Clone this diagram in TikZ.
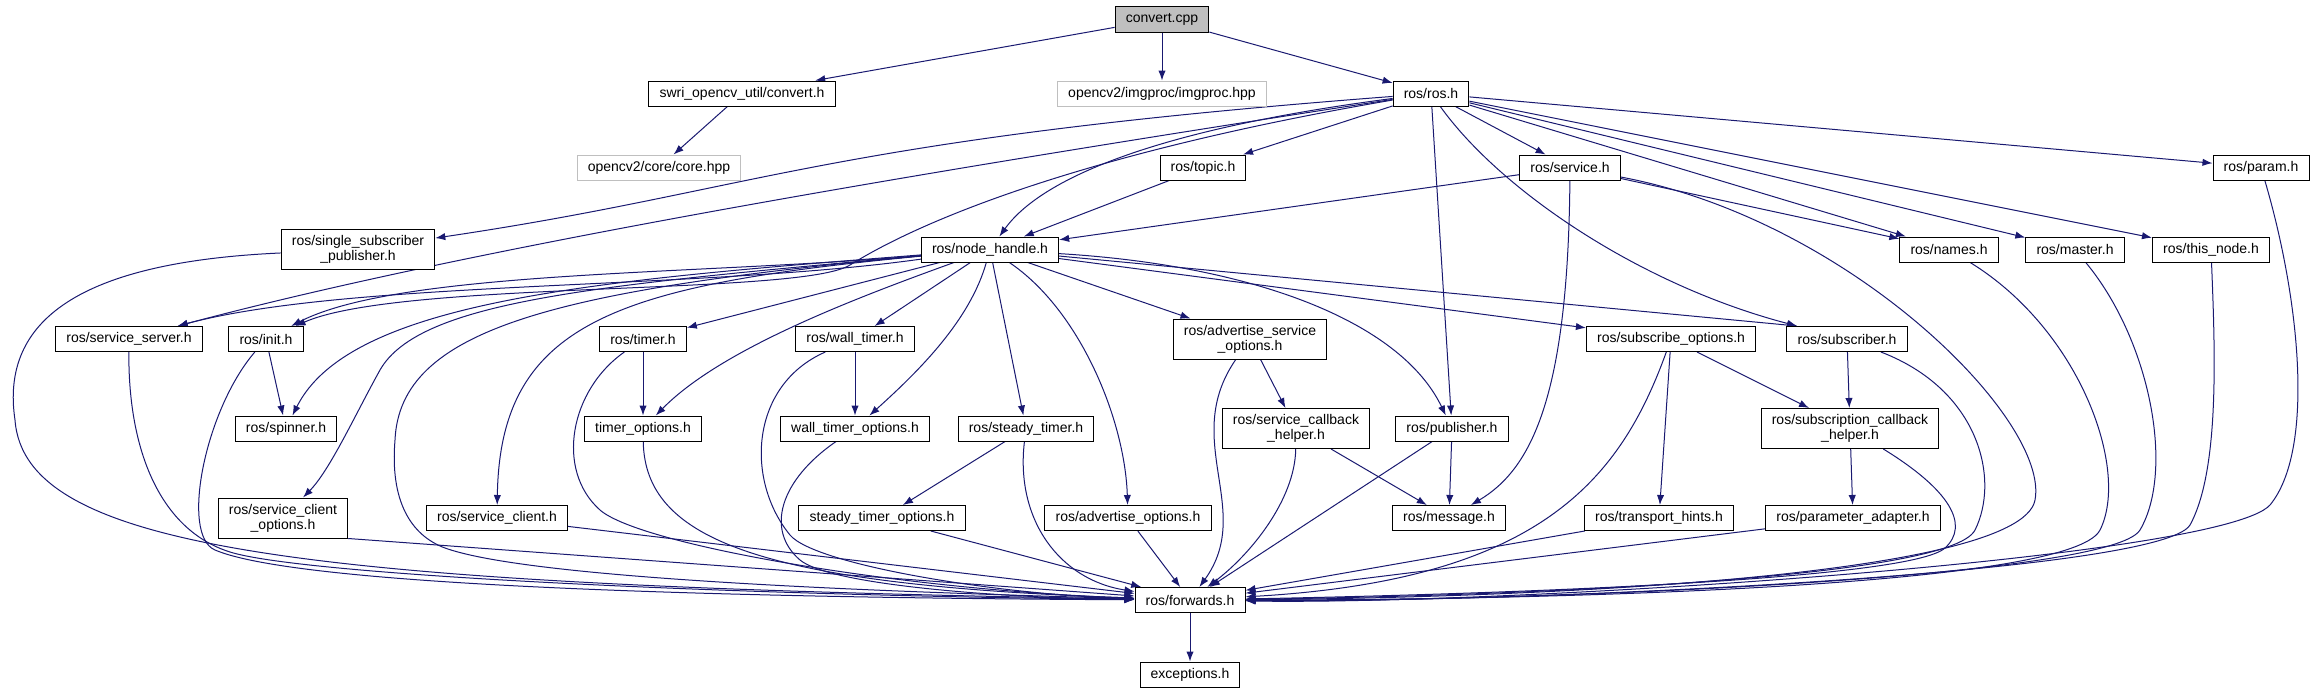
\documentclass[tikz,border=0pt]{standalone}
\usepackage{fontspec}
\newfontfamily\hfont{Liberation Sans}
\usetikzlibrary{arrows.meta}
\pgfdeclarelayer{back}
\pgfsetlayers{back,main}
\definecolor{edgeblue}{RGB}{25,25,112}
\definecolor{boxgray}{RGB}{191,191,191}
\tikzset{
  hdr/.style={draw=black,fill=white,line width=0.75pt,inner xsep=8pt,inner ysep=0pt,
    minimum height=18.75pt,align=center,font=\hfont\fontsize{10.5pt}{11.25pt}\selectfont},
  hdr2/.style={hdr,minimum height=30pt},
  ext/.style={hdr,draw=boxgray},
  root/.style={hdr,fill=boxgray,minimum height=19.5pt},
  inc/.style={draw=edgeblue,line width=0.75pt,-{Latex[length=7.5pt,width=5.5pt]}}
}

\begin{document}
\begin{tikzpicture}[x=0.75pt,y=-0.75pt]
\useasboundingbox (0,0) rectangle (2316,693);

%root
\node[root] (cpp) at (1162,19) {convert.cpp};

%row 1
\node[hdr] (swri) at (742,93.5) {swri\_opencv\_util/convert.h};
\node[ext] (imgproc) at (1162,93.5) {opencv2/imgproc/imgproc.hpp};
\node[hdr] (ros) at (1431,93.5) {ros/ros.h};

%row 2
\node[ext] (core) at (659,167.5) {opencv2/core/core.hpp};
\node[hdr] (topic) at (1203,167.5) {ros/topic.h};
\node[hdr] (service) at (1570,167.5) {ros/service.h};
\node[hdr] (param) at (2261,167.5) {ros/param.h};

%row 3
\node[hdr2] (ssp) at (358,249.5) {ros/single\_subscriber\\\_publisher.h};
\node[hdr] (nh) at (990,249.5) {ros/node\_handle.h};
\node[hdr] (names) at (1949,249.5) {ros/names.h};
\node[hdr] (master) at (2075,249.5) {ros/master.h};
\node[hdr] (thisnode) at (2211,249.5) {ros/this\_node.h};

%row 4
\node[hdr] (srvserver) at (129,339) {ros/service\_server.h};
\node[hdr] (init) at (266,339) {ros/init.h};
\node[hdr] (timer) at (643,339) {ros/timer.h};
\node[hdr] (walltimer) at (855,339) {ros/wall\_timer.h};
\node[hdr2] (advsrvopt) at (1250,339) {ros/advertise\_service\\\_options.h};
\node[hdr] (subopt) at (1671,339) {ros/subscribe\_options.h};
\node[hdr] (subscriber) at (1847,339) {ros/subscriber.h};

%row 5
\node[hdr] (spinner) at (286,428.5) {ros/spinner.h};
\node[hdr] (timeropt) at (643,428.5) {timer\_options.h};
\node[hdr] (walltimeropt) at (855,428.5) {wall\_timer\_options.h};
\node[hdr] (steadytimer) at (1026,428.5) {ros/steady\_timer.h};
\node[hdr2] (srvcb) at (1296,428.5) {ros/service\_callback\\\_helper.h};
\node[hdr] (publisher) at (1452,428.5) {ros/publisher.h};
\node[hdr2] (subcb) at (1850,428.5) {ros/subscription\_callback\\\_helper.h};

%row 6
\node[hdr2] (srvclientopt) at (283,518) {ros/service\_client\\\_options.h};
\node[hdr] (srvclient) at (497,518) {ros/service\_client.h};
\node[hdr] (steadytimeropt) at (882,518) {steady\_timer\_options.h};
\node[hdr] (advopt) at (1128,518) {ros/advertise\_options.h};
\node[hdr] (message) at (1449,518) {ros/message.h};
\node[hdr] (transport) at (1659,518) {ros/transport\_hints.h};
\node[hdr] (paramadapt) at (1853,518) {ros/parameter\_adapter.h};

%bottom
\node[hdr] (fwd) at (1190,600) {ros/forwards.h};
\node[hdr] (exc) at (1190,674.5) {exceptions.h};

\begin{pgfonlayer}{back}
%convert.cpp
\draw[inc] (cpp) -- (swri);
\draw[inc] (cpp) -- (imgproc);
\draw[inc] (cpp) -- (ros);
\draw[inc] (swri) -- (core);

%ros/ros.h
\draw[inc] (ros) .. controls (820,140) and (760,190) .. (ssp);
\draw[inc] (ros) .. controls (1000,160) and (500,240) .. (srvserver);
\draw[inc] (ros) .. controls (1100,150) and (930,215) .. (850,265) .. controls (800,296) and (400,280) .. (init);
\draw[inc] (ros) .. controls (1150,130) and (1040,180) .. (nh);
\draw[inc] (ros) -- (topic);
\draw[inc] (ros) -- (service);
\draw[inc] (ros) -- (publisher);
\draw[inc] (ros) .. controls (1500,190) and (1640,285) .. (subscriber);
\draw[inc] (ros) -- (names);
\draw[inc] (ros) -- (master);
\draw[inc] (ros) -- (thisnode);
\draw[inc] (ros) -- (param);

%topic, service
\draw[inc] (topic) -- (nh);
\draw[inc] (service) -- (nh);
\draw[inc] (service) -- (names);
\draw[inc] (service) .. controls (1568,400) and (1530,470) .. (message);
\draw[inc] (service) .. controls (1850,220) and (2050,420) .. (2035,500) .. controls (2020,580) and (1500,598) .. (fwd);

%node_handle
\draw[inc] (nh) .. controls (700,290) and (350,280) .. (srvserver);
\draw[inc] (nh) .. controls (700,275) and (400,270) .. (init);
\draw[inc] (nh) .. controls (600,280) and (350,300) .. (spinner);
\draw[inc] (nh) -- (timer);
\draw[inc] (nh) .. controls (850,300) and (720,350) .. (timeropt);
\draw[inc] (nh) -- (walltimer);
\draw[inc] (nh) .. controls (970,320) and (920,370) .. (walltimeropt);
\draw[inc] (nh) -- (steadytimer);
\draw[inc] (nh) .. controls (600,285) and (420,300) .. (380,370) .. controls (355,415) and (330,470) .. (srvclientopt);
\draw[inc] (nh) .. controls (620,285) and (500,320) .. (srvclient);
\draw[inc] (nh) .. controls (550,290) and (400,330) .. (395,440) .. controls (390,500) and (410,535) .. (445,548) .. controls (520,575) and (800,590) .. (fwd);
\draw[inc] (nh) .. controls (1080,310) and (1125,420) .. (advopt);
\draw[inc] (nh) -- (advsrvopt);
\draw[inc] (nh) .. controls (1250,265) and (1400,320) .. (publisher);
\draw[inc] (nh) -- (subopt);
\draw[inc] (nh) -- ([xshift=8pt]subscriber.north west);

%left column
\draw[inc] (ssp) .. controls (80,262) and (0,320) .. (15,420) .. controls (25,550) and (300,585) .. (fwd);
\draw[inc] (srvserver) .. controls (128,450) and (160,530) .. (230,552) .. controls (300,574) and (700,595) .. (fwd);
\draw[inc] (init) -- (spinner);
\draw[inc] (init) .. controls (205,410) and (180,535) .. (215,550) .. controls (302,587) and (750,598) .. (fwd);
\draw[inc] (srvclientopt.south east) -- (fwd);
\draw[inc] (srvclient) -- (fwd);

%timers
\draw[inc] (timer) -- (timeropt);
\draw[inc] (timer) .. controls (570,390) and (555,470) .. (600,510) .. controls (640,545) and (900,590) .. (fwd);
\draw[inc] (timeropt) .. controls (645,540) and (760,585) .. (fwd);
\draw[inc] (walltimer) -- (walltimeropt);
\draw[inc] (walltimer) .. controls (750,385) and (745,480) .. (790,535) .. controls (815,565) and (1000,595) .. (fwd);
\draw[inc] (walltimeropt) .. controls (780,480) and (765,530) .. (800,560) .. controls (830,585) and (1000,598) .. (fwd);
\draw[inc] (steadytimer) -- (steadytimeropt);
\draw[inc] (steadytimer) .. controls (1015,520) and (1060,580) .. (fwd);
\draw[inc] (steadytimeropt) -- (fwd);

%advertise
\draw[inc] (advsrvopt) -- (srvcb);
\draw[inc] (advsrvopt) .. controls (1180,440) and (1255,510) .. (fwd);
\draw[inc] (advopt) -- (fwd);
\draw[inc] (srvcb) -- (message);
\draw[inc] (srvcb) .. controls (1295,500) and (1250,555) .. (fwd);

%publisher
\draw[inc] (publisher) -- (message);
\draw[inc] (publisher) -- (fwd);

%subscribe
\draw[inc] (subopt) -- (transport);
\draw[inc] (subopt) -- (subcb);
\draw[inc] (subopt) .. controls (1620,480) and (1540,580) .. (fwd);
\draw[inc] (transport) -- (fwd);
\draw[inc] (subscriber) -- (subcb);
\draw[inc] (subscriber) .. controls (1980,390) and (2000,480) .. (1975,530) .. controls (1950,580) and (1500,596) .. (fwd);
\draw[inc] (subcb) -- (paramadapt);
\draw[inc] (subcb) .. controls (1950,490) and (1970,525) .. (1945,548) .. controls (1910,580) and (1500,594) .. (fwd);
\draw[inc] (paramadapt) -- (fwd);

%right column
\draw[inc] (names) .. controls (2080,330) and (2130,470) .. (2100,530) .. controls (2070,590) and (1500,600) .. (fwd);
\draw[inc] (master) .. controls (2150,340) and (2175,470) .. (2140,530) .. controls (2110,580) and (1500,602) .. (fwd);
\draw[inc] (thisnode) .. controls (2215,350) and (2220,470) .. (2190,525) .. controls (2160,575) and (1500,603) .. (fwd);
\draw[inc] (param) .. controls (2300,300) and (2315,450) .. (2270,505) .. controls (2220,560) and (1500,605) .. (fwd);

%forwards
\draw[inc] (fwd) -- (exc);
\end{pgfonlayer}

\end{tikzpicture}
\end{document}
